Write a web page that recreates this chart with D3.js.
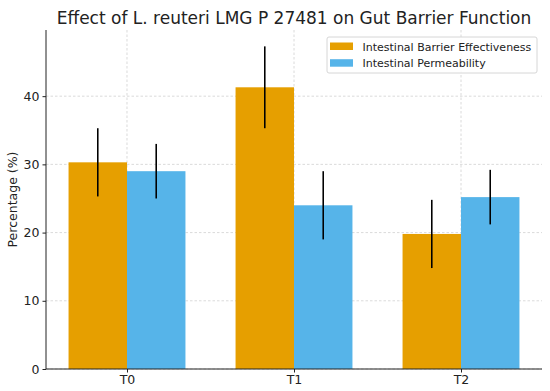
<!DOCTYPE html>
<html>
<head>
<meta charset="utf-8">
<script src="https://cdn.jsdelivr.net/npm/d3@7"></script>
<style>
  body { margin: 0; background: #fff; }
  svg { font-family: "DejaVu Sans", sans-serif; }
</style>
</head>
<body>
<div id="chart"></div>
<script>
// chart data
const groups = ["T0", "T1", "T2"];
const seriesNames = ["Intestinal Barrier Effectiveness", "Intestinal Permeability"];
const barrier = [30.3, 41.3, 19.8];
const barrierErr = [5, 6, 5];
const permeability = [29.0, 24.0, 25.2];
const permeabilityErr = [4, 5, 4];
const yTicks = [0, 10, 20, 30, 40];
const colors = ["#E69F00", "#56B4E9"];

const width = 550, height = 391;
const margin = { top: 30, right: 8, bottom: 22, left: 46 };

const svg = d3.select("#chart").append("svg")
    .attr("width", width)
    .attr("height", height);

// x in data units like matplotlib: group centres at 0,1,2
const x = d3.scaleLinear()
    .domain([-0.485, 2.485])
    .range([margin.left, width - margin.right]);

const y = d3.scaleLinear()
    .domain([0, 49.7])
    .range([height - margin.bottom, margin.top]);

const barW = 0.35;

// grid
svg.append("g")
    .selectAll("line")
    .data(yTicks)
    .join("line")
    .attr("x1", margin.left).attr("x2", width - margin.right)
    .attr("y1", d => y(d)).attr("y2", d => y(d))
    .attr("stroke", "#d0d0d0")
    .attr("stroke-dasharray", "2.5,2")
    .attr("stroke-width", 0.8);

svg.append("g")
    .selectAll("line")
    .data(groups)
    .join("line")
    .attr("x1", (d, i) => x(i)).attr("x2", (d, i) => x(i))
    .attr("y1", margin.top).attr("y2", height - margin.bottom)
    .attr("stroke", "#d0d0d0")
    .attr("stroke-dasharray", "2.5,2")
    .attr("stroke-width", 0.8);

// bars + error bars
const series = [
    { vals: barrier, errs: barrierErr, off: -barW / 2 },
    { vals: permeability, errs: permeabilityErr, off: barW / 2 }
];

series.forEach((s, si) => {
    svg.append("g")
        .selectAll("rect")
        .data(s.vals)
        .join("rect")
        .attr("x", (d, i) => x(i + s.off - barW / 2))
        .attr("y", d => y(d))
        .attr("width", x(barW) - x(0))
        .attr("height", d => y(0) - y(d))
        .attr("fill", colors[si]);

    svg.append("g")
        .selectAll("line")
        .data(s.vals)
        .join("line")
        .attr("x1", (d, i) => x(i + s.off))
        .attr("x2", (d, i) => x(i + s.off))
        .attr("y1", (d, i) => y(d - s.errs[i]))
        .attr("y2", (d, i) => y(d + s.errs[i]))
        .attr("stroke", "#000")
        .attr("stroke-width", 1.6);
});

// axes
const xAxis = svg.append("g")
    .attr("transform", `translate(0,${height - margin.bottom})`)
    .call(d3.axisBottom(x).tickValues([0, 1, 2]).tickFormat(i => groups[i]).tickSize(3.5).tickSizeOuter(0));
xAxis.select(".domain").attr("d", `M${margin.left},0H${width - margin.right}`).attr("stroke", "#222");

const yAxis = svg.append("g")
    .attr("transform", `translate(${margin.left},0)`)
    .call(d3.axisLeft(y).tickValues(yTicks).tickSize(3.5).tickSizeOuter(0));
yAxis.select(".domain").attr("d", `M0,${margin.top}V${height - margin.bottom}`).attr("stroke", "#222");

svg.selectAll(".tick text")
    .attr("font-family", "DejaVu Sans, sans-serif")
    .attr("font-size", 12.5)
    .attr("fill", "#222");
svg.selectAll(".tick line").attr("stroke", "#222");

// labels
svg.append("text")
    .attr("transform", `translate(17,${(margin.top + height - margin.bottom) / 2}) rotate(-90)`)
    .attr("text-anchor", "middle")
    .attr("font-size", 12.5)
    .attr("fill", "#222")
    .text("Percentage (%)");

svg.append("text")
    .attr("x", (margin.left + width - margin.right) / 2)
    .attr("y", 24)
    .attr("text-anchor", "middle")
    .attr("font-size", 17)
    .attr("fill", "#222")
    .text("Effect of L. reuteri LMG P 27481 on Gut Barrier Function");

// legend
const lg = svg.append("g").attr("transform", "translate(327,37)");
lg.append("rect")
    .attr("width", 210).attr("height", 36).attr("rx", 2)
    .attr("fill", "#fff").attr("fill-opacity", 0.85)
    .attr("stroke", "#d6d6d6");
seriesNames.forEach((name, i) => {
    lg.append("rect")
        .attr("x", 3).attr("y", 5.5 + i * 16.7)
        .attr("width", 23).attr("height", 7.5)
        .attr("fill", colors[i]);
    lg.append("text")
        .attr("x", 35.5).attr("y", 13.5 + i * 16.7)
        .attr("font-size", 11)
        .attr("fill", "#222")
        .text(name);
});
</script>
</body>
</html>
